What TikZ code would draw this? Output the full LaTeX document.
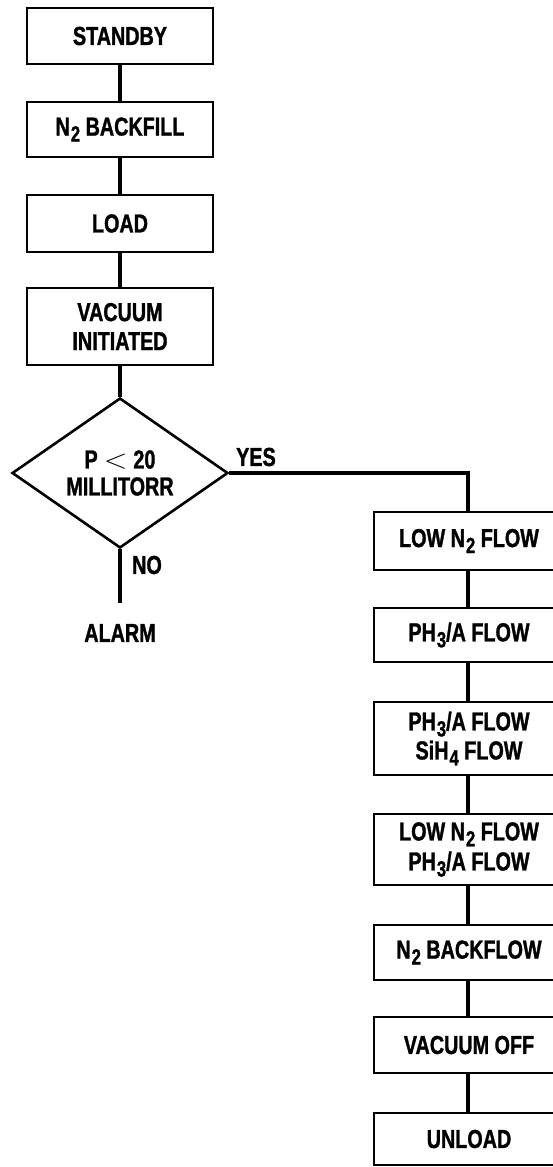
\documentclass[tikz,border=0pt]{standalone}
\usepackage{fontspec}
\setmainfont{Liberation Sans}[FakeStretch=0.76,FakeBold=1.2]
\usetikzlibrary{shapes.geometric}
\newcommand{\lsub}[1]{\hspace{1pt}\raisebox{-6pt}{\fontsize{22}{22}\selectfont #1}}
\newcommand{\bigless}{\hspace{6pt}\scalebox{1.25}[1.1]{$<$}\hspace{6pt}}
\begin{document}
\begin{tikzpicture}[x=1pt,y=-1pt,
  box/.style={draw, line width=2.6pt, minimum width=186pt, inner sep=0pt, align=center,
    font=\fontsize{26}{29}\selectfont\bfseries},
  dec/.style={draw, diamond, line width=2.6pt, minimum width=216pt, minimum height=150pt,
    shape aspect=1.44, inner sep=0pt, align=center, font=\fontsize{26}{27}\selectfont\bfseries},
  link/.style={line width=3.2pt},
  lbl/.style={inner sep=0pt, font=\fontsize{26}{29}\selectfont\bfseries}]
\useasboundingbox (0,0) rectangle (553,1167);
% left column
\node[box, minimum height=56pt] (standby) at (120,36) {STANDBY};
\node[box, minimum height=55pt] (backfill) at (120,129.5) {N\lsub{2} BACKFILL};
\node[box, minimum height=57pt] (load) at (120,223.5) {LOAD};
\node[box, minimum height=77pt] (vacinit) at (120,326.5) {VACUUM\\INITIATED};
\node[dec] (dec) at (120,473) {P\bigless 20\\MILLITORR};
\node[lbl] (no) at (147,565) {NO};
\node[lbl] (alarm) at (120,633) {ALARM};
\node[lbl] (yes) at (256,457) {YES};
\coordinate (alarmend) at (120,603);
\coordinate (corner) at (468,473);
% right column
\node[box, minimum width=190pt, minimum height=58pt] (lown2) at (469,541) {LOW N\lsub{2} FLOW};
\node[box, minimum width=190pt, minimum height=54pt] (ph3a) at (469,635) {PH\lsub{3}/A FLOW};
\node[box, minimum width=190pt, minimum height=73pt] (ph3sih4) at (469,738.5) {PH\lsub{3}/A FLOW\\SiH\lsub{4} FLOW};
\node[box, minimum width=190pt, minimum height=71pt] (lown2ph3) at (469,849.5) {LOW N\lsub{2} FLOW\\[1pt]PH\lsub{3}/A FLOW};
\node[box, minimum width=190pt, minimum height=55pt] (backflow) at (469,952.5) {N\lsub{2} BACKFLOW};
\node[box, minimum width=190pt, minimum height=56pt] (vacoff) at (469,1045) {VACUUM OFF};
\node[box, minimum width=190pt, minimum height=52pt] (unload) at (469,1139) {UNLOAD};
% connectors
\draw[link] (standby) -- (backfill);
\draw[link] (backfill) -- (load);
\draw[link] (load) -- (vacinit);
\draw[link] (vacinit) -- (dec.north);
\draw[link] (dec.south) -- (alarmend);
\draw[link] (dec.east) -- (corner) -- (lown2.north -| corner);
\draw[link] (lown2.south -| corner) -- (ph3a.north -| corner);
\draw[link] (ph3a.south -| corner) -- (ph3sih4.north -| corner);
\draw[link] (ph3sih4.south -| corner) -- (lown2ph3.north -| corner);
\draw[link] (lown2ph3.south -| corner) -- (backflow.north -| corner);
\draw[link] (backflow.south -| corner) -- (vacoff.north -| corner);
\draw[link] (vacoff.south -| corner) -- (unload.north -| corner);
\end{tikzpicture}
\end{document}
